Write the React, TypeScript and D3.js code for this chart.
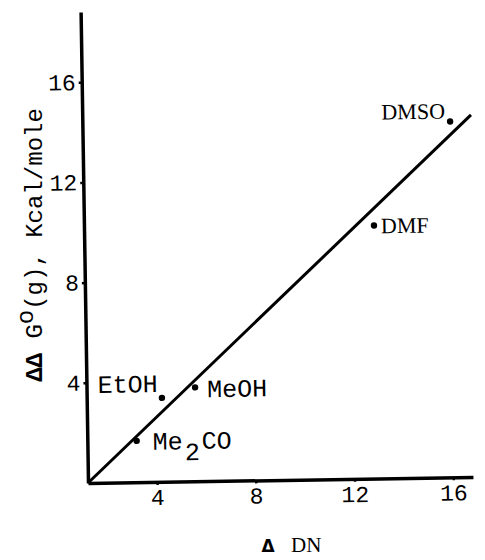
import React, { useRef, useEffect } from 'react';
import * as d3 from 'd3';

// solvent points
const solvents = ['Me2CO', 'EtOH', 'MeOH', 'DMF', 'DMSO'];
const deltaDN = [3.2, 4.25, 5.6, 12.95, 16.1];
const deltaG = [1.65, 3.35, 3.75, 10.1, 14.2];

// straight line drawn through the points
const fitDN = [1.2, 16.95];
const fitG = [0, 14.45];

const xTicks = [4, 8, 12, 16];
const yTicks = [4, 8, 12, 16];

const MONO = '"Liberation Mono", "DejaVu Sans Mono", monospace';
const SERIF = '"Liberation Serif", "DejaVu Serif", serif';

const App = () => {
  const svgRef = useRef<SVGSVGElement>(null);

  useEffect(() => {
    const svg = d3.select(svgRef.current);
    svg.selectAll('*').remove();

    const width = 485;
    const height = 560;

    svg.append('rect').attr('width', width).attr('height', height).attr('fill', '#fff');

    // axes cross at the corner, the x axis does not start at zero
    const x = d3.scaleLinear().domain([1.2, 16.8]).range([88, 473]);
    const y = d3.scaleLinear().domain([0, 18.8]).range([483, 12]);

    // the scan is a little skewed
    const g = svg.append('g').attr('transform', `rotate(-0.9, ${x(1.2)}, ${y(0)})`);

    // x axis
    const xAxis = g
      .append('g')
      .attr('transform', `translate(0, ${y(0)})`)
      .call(d3.axisBottom(x).tickValues(xTicks).tickSize(3).tickSizeOuter(0).tickPadding(4));
    xAxis.select('.domain').attr('stroke', '#000').attr('stroke-width', 3.5);
    xAxis.selectAll('.tick line').attr('stroke', '#000').attr('stroke-width', 2.5);
    xAxis.selectAll('.tick text').attr('font-family', MONO).attr('font-size', 23).attr('fill', '#000');

    // y axis
    const yAxis = g
      .append('g')
      .attr('transform', `translate(${x(1.2)}, 0)`)
      .call(d3.axisLeft(y).tickValues(yTicks).tickSize(3).tickSizeOuter(0).tickPadding(3));
    yAxis.select('.domain').attr('stroke', '#000').attr('stroke-width', 3.5);
    yAxis.selectAll('.tick line').attr('stroke', '#000').attr('stroke-width', 2.5);
    yAxis.selectAll('.tick text').attr('font-family', MONO).attr('font-size', 23).attr('fill', '#000');

    // fitted line
    const line = d3
      .line<number>()
      .x((d, i) => x(fitDN[i]))
      .y((d) => y(d));
    g.append('path')
      .attr('d', line(fitG))
      .attr('fill', 'none')
      .attr('stroke', '#000')
      .attr('stroke-width', 3);

    // points
    const points = solvents.map((name, i) => ({ name, dn: deltaDN[i], dg: deltaG[i] }));
    g.selectAll('.pt')
      .data(points)
      .enter()
      .append('circle')
      .attr('class', 'pt')
      .attr('cx', (d) => x(d.dn))
      .attr('cy', (d) => y(d.dg))
      .attr('r', 3.2)
      .attr('fill', '#000');

    // labels placed next to each point
    const place: Record<string, { dx: number; dy: number; anchor: string; font: string; size: number }> = {
      Me2CO: { dx: 16, dy: 9, anchor: 'start', font: MONO, size: 25 },
      EtOH: { dx: -4, dy: -6, anchor: 'end', font: MONO, size: 25 },
      MeOH: { dx: 12, dy: 10, anchor: 'start', font: MONO, size: 25 },
      DMF: { dx: 7, dy: 8, anchor: 'start', font: SERIF, size: 22 },
      DMSO: { dx: -5, dy: -3, anchor: 'end', font: SERIF, size: 22 },
    };

    points.forEach((p) => {
      const o = place[p.name];
      const t = g
        .append('text')
        .attr('x', x(p.dn) + o.dx)
        .attr('y', y(p.dg) + o.dy)
        .attr('text-anchor', o.anchor)
        .attr('font-family', o.font)
        .attr('font-size', o.size)
        .attr('fill', '#000');
      if (p.name === 'Me2CO') {
        t.append('tspan').text('Me');
        t.append('tspan').attr('dx', 2).attr('dy', 11).text('2');
        t.append('tspan').attr('dx', 2).attr('dy', -11).text('CO');
      } else {
        t.text(p.name);
      }
    });

    // y axis title
    const yt = svg
      .append('text')
      .attr('transform', 'translate(42, 245) rotate(-90)')
      .attr('text-anchor', 'middle')
      .attr('font-family', MONO)
      .attr('font-size', 24)
      .attr('fill', '#000');
    yt.append('tspan').attr('font-weight', 'bold').text('\u0394\u0394');
    yt.append('tspan').text(' G');
    yt.append('tspan').attr('dy', -9).text('o');
    yt.append('tspan').attr('dy', 9).text('(g), Kcal/mole');

    // x axis title
    svg
      .append('text')
      .attr('x', 268)
      .attr('y', 552)
      .attr('text-anchor', 'middle')
      .attr('font-family', '"DejaVu Sans", sans-serif')
      .attr('font-weight', 'bold')
      .attr('font-size', 17)
      .attr('fill', '#000')
      .text('\u0394');
    svg
      .append('text')
      .attr('x', 291)
      .attr('y', 552)
      .attr('font-family', SERIF)
      .attr('font-size', 21)
      .attr('fill', '#000')
      .text('DN');
  }, []);

  return (
    <div>
      <svg
        ref={svgRef}
        width={485}
        height={560}
        style={{ position: 'absolute', left: 0, top: 0, display: 'block' }}
      />
    </div>
  );
};

export default App;
